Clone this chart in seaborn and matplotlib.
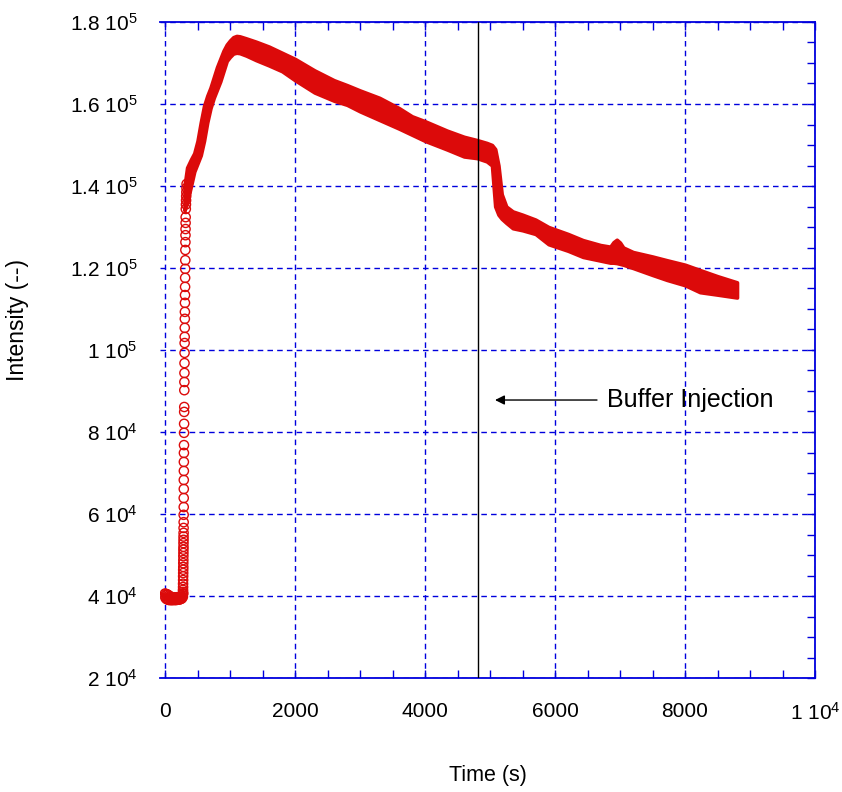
import matplotlib
matplotlib.use("Agg")
import matplotlib.pyplot as plt
import seaborn as sns
import numpy as np
import pandas as pd

# ---------------- data ----------------
# baseline before injection (upper and lower spread of the blob)
base_t = [0, 15, 30, 45, 60, 75, 90, 105, 120, 135, 150, 165, 180, 195, 210, 225, 240, 255, 270,
          5, 20, 35, 50, 65, 80, 95, 110, 125, 140, 155, 170, 185, 200, 215, 230, 245, 260, 275, 280]
base_I = [40600, 40500, 40400, 40300, 40100, 39900, 39800, 39700, 39600, 39700, 39600, 39500,
          39700, 39600, 39700, 39500, 39700, 39800, 40200,
          39600, 39300, 39200, 39100, 39000, 39100, 39000, 39000, 39100, 39000, 39100, 39000,
          39100, 39200, 39100, 39200, 39300, 39400, 39800, 40600]

# fast rise (individually visible circles)
rise_t = [276, 277, 277, 278, 278, 279, 279, 280,
          280, 281, 281, 282, 282, 283, 283, 284,
          284, 285, 285, 286, 286, 287, 287, 288,
          288, 289, 289, 290, 290, 291, 292, 293,
          294, 295, 296, 297, 298, 299, 300, 301,
          302, 303, 304, 305, 306, 307, 308, 309,
          310, 311, 312, 313, 314, 315, 316, 317,
          318, 320, 322, 324, 326, 328, 330, 332]
rise_I = [40500, 41000, 41500, 42200, 43000, 43900, 44800, 45600,
          46400, 47100, 48000, 48800, 49700, 50500, 51300, 52000,
          52900, 53700, 54500, 55400, 56600, 58000, 59800, 61700,
          63900, 66100, 68300, 70500, 72700, 74900, 76800, 79800,
          82000, 84900, 86100, 90200, 92200, 94400, 96800, 99300,
          101700, 103200, 105400, 107600, 109300, 111500, 113400, 115400,
          117600, 119800, 121900, 124400, 126300, 128000, 129500, 131000,
          132400, 134400, 135500, 136500, 137500, 138500, 139500, 140500]

# dense part: upper and lower edge of the band of overlapping circles
band_t = [300, 340, 400, 450, 500, 550, 600, 650, 700, 750, 800, 850, 900, 950, 1000,
          1050, 1100, 1150, 1250, 1400, 1600, 1800, 2000, 2300, 2600, 2800, 3000, 3300,
          3600, 3800, 4000, 4340, 4600, 4800, 4950, 5030, 5080, 5130, 5180, 5250, 5350,
          5500, 5700, 5900, 6200, 6430, 6700, 6850, 6900, 6950, 7000, 7050, 7200, 7500,
          7720, 8000, 8230, 8500, 8800]
band_hi = [140000, 144500, 146500, 148000, 151000, 155500, 159500, 162000, 164000, 166500,
           169000, 171000, 173000, 174500, 175500, 176300, 176600, 176500, 176000, 175200,
           174000, 172500, 171000, 168200, 165800, 164600, 163300, 161500, 159000, 157000,
           155800, 153500, 152000, 151200, 150500, 150000, 149000, 145000, 138000, 135000,
           133800, 133000, 131800, 130000, 128300, 126800, 125600, 125200, 126300, 126900,
           126200, 125000, 123900, 122800, 121900, 120800, 119500, 118000, 116500]
band_lo = [134000, 136000, 140000, 143500, 145500, 147500, 151000, 155500, 159000, 161500,
           163500, 165500, 168000, 170500, 171500, 172300, 172500, 172400, 171800, 170700,
           169400, 168000, 165800, 162800, 160800, 159800, 158200, 156100, 154000, 152500,
           151000, 148900, 147200, 146800, 146000, 145000, 135000, 133000, 132000, 131000,
           129700, 129200, 128300, 125800, 124200, 122700, 121800, 121300, 121300, 121200,
           121000, 120800, 120000, 118300, 117100, 115800, 114100, 113500, 112800]

injection_t = 4815
arrow_y = 87800
arrow_tail_t = 6646
arrow_head_t = 5077
label_t = 6800
label_text = "Buffer Injection"

x_ticks = [0, 2000, 4000, 6000, 8000, 10000]
x_ticklabels = ["0", "2000", "4000", "6000", "8000", "1 10$^{4}$"]
y_ticks = [20000, 40000, 60000, 80000, 100000, 120000, 140000, 160000, 180000]
y_ticklabels = ["2 10$^{4}$", "4 10$^{4}$", "6 10$^{4}$", "8 10$^{4}$", "1 10$^{5}$",
                "1.2 10$^{5}$", "1.4 10$^{5}$", "1.6 10$^{5}$", "1.8 10$^{5}$"]

# ---------------- style ----------------
sns.set_theme(style="white")
plt.rcParams["font.family"] = ["Liberation Sans", "DejaVu Sans"]
plt.rcParams["mathtext.fontset"] = "custom"
plt.rcParams["mathtext.rm"] = "Liberation Sans"
plt.rcParams["mathtext.it"] = "Liberation Sans:italic"
plt.rcParams["mathtext.bf"] = "Liberation Sans:bold"

RED = "#dc0a0a"
BLUE = "#0000dd"

fig = plt.figure(figsize=(8.42, 7.92), dpi=100)
ax = fig.add_axes([160 / 842, 1 - 678 / 792, 655 / 842, 656 / 792])

pts = pd.DataFrame({"t": base_t + rise_t, "I": base_I + rise_I})
band = pd.DataFrame({"t": band_t, "hi": band_hi, "lo": band_lo})

ax.fill_between(band["t"], band["lo"], band["hi"], color=RED, linewidth=2.6,
                edgecolor=RED, joinstyle="round", zorder=2)
sns.scatterplot(data=pts, x="t", y="I", ax=ax, marker="o", s=44,
                facecolors="none", edgecolor=RED, linewidth=1.0, zorder=3)

ax.set_xlim(-77, 10000)
ax.set_ylim(20000, 180000)

ax.set_xticks(x_ticks)
ax.set_xticklabels(x_ticklabels)
ax.set_yticks(y_ticks)
ax.set_yticklabels(y_ticklabels)
ax.set_xticks(np.arange(500, 10000, 500), minor=True)
ax.set_yticks(np.arange(25000, 180000, 5000), minor=True)

ax.set_axisbelow(True)
ax.grid(True, which="major", color=BLUE, linestyle=(0, (4, 3)), linewidth=1.0)

for side in ["top", "bottom", "right"]:
    ax.spines[side].set_visible(True)
    ax.spines[side].set_color(BLUE)
    ax.spines[side].set_linewidth(1.3)
ax.spines["left"].set_visible(False)

ax.tick_params(which="both", direction="in", top=True, right=True, left=False,
               bottom=True, labelleft=True, labelbottom=True, color=BLUE,
               width=1.0, labelcolor="black", labelsize=15)
ax.tick_params(which="major", length=6)
ax.tick_params(which="minor", length=5.5)
ax.tick_params(axis="x", which="major", pad=17)
ax.tick_params(axis="y", which="major", pad=16)

ax.axvline(injection_t, color="black", linewidth=1.0, zorder=4)
ax.annotate("", xy=(arrow_head_t, arrow_y), xytext=(arrow_tail_t, arrow_y),
            arrowprops=dict(arrowstyle="-|>", color="black", linewidth=1.0,
                            mutation_scale=14, shrinkA=0, shrinkB=0), zorder=5)
ax.text(label_t, arrow_y, label_text, fontsize=18, va="center", ha="left", color="black")

ax.set_xlabel("Time (s)", fontsize=15.5, color="black")
ax.set_ylabel("Intensity (--)", fontsize=16.5, color="black")
ax.xaxis.set_label_coords(0.5, -0.133)
ax.yaxis.set_label_coords(-0.20, 0.546)

fig.savefig("out.png", dpi=100)
